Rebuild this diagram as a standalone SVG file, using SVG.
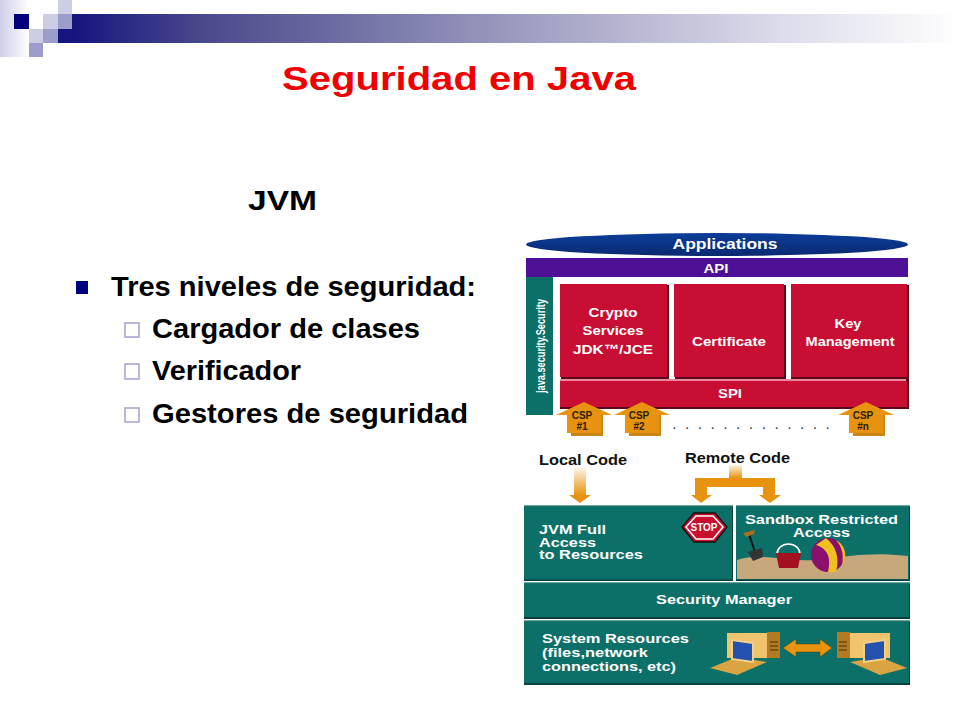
<svg xmlns="http://www.w3.org/2000/svg" width="960" height="720" viewBox="0 0 960 720">
<style>
text{font-family:"Liberation Sans",Arial,sans-serif;font-weight:bold}
.b{fill:#000;font-size:27px}
.w{fill:#fff;text-anchor:middle;font-size:13.5px}
.wl{fill:#fff;font-size:13.5px}
.red{fill:#c80e32}
.rs{fill:#5c0818}
.teal{fill:#0c6f68}
.ts{fill:#063f3b}
.tl{fill:#62aaa4}
.cb{fill:#fff;stroke:#a9a6cf;stroke-width:1.6}
.or{fill:#e8930f}
.csp{fill:#2b2000;font-size:10px;text-anchor:middle}
</style>
<defs>
<linearGradient id="bar"><stop offset="0" stop-color="#15157f"/><stop offset=".15" stop-color="#4a4a8c"/><stop offset=".5" stop-color="#9c9cc0"/><stop offset=".8" stop-color="#dcdcea"/><stop offset="1" stop-color="#fff"/></linearGradient>
<linearGradient id="left"><stop offset="0" stop-color="#cfcfe8"/><stop offset="1" stop-color="#fff"/></linearGradient>
<linearGradient id="ell" x1="0" y1="0" x2="0" y2="1"><stop offset="0" stop-color="#0c3d99"/><stop offset="1" stop-color="#0a2a70"/></linearGradient>
<linearGradient id="fade" x1="0" y1="0" x2="0" y2="1"><stop offset="0" stop-color="#e8930f" stop-opacity=".1"/><stop offset="1" stop-color="#e8930f"/></linearGradient>
<g id="up"><path d="M-13 33V15H15V33Z" fill="#8a5a10"/><path d="M-15 35V14H17V35Z" fill="#c9851a" transform="translate(2,-1)"/><path d="M-17 31V13H-28L0 0 28 13H17V31Z" class="or"/></g>
<g id="pc"><path d="M0 36L27 25 57 30 27 43Z" fill="#d9a441"/><path d="M17 1H57V26H17Z" fill="#efc46c"/><path d="M57 0H70V26H57Z" fill="#b27a22"/><path d="M22 8L43 11V30L22 27Z" fill="#2450ae" stroke="#f3d08a" stroke-width="2"/><path d="M60 10h8M60 14h8M60 18h8" stroke="#4a3000" stroke-width="1"/></g>
</defs>
<g id="header">
<rect x="0" y="0" width="29" height="57" fill="url(#left)"/>
<rect x="72" y="14" width="888" height="29" fill="url(#bar)"/>
<rect x="14" y="14" width="15" height="15" fill="#00007f"/>
<rect x="29" y="14" width="14" height="15" fill="#fff"/>
<rect x="43" y="14" width="15" height="15" fill="#cdcde6"/>
<rect x="58" y="0" width="14" height="14" fill="#cdcde6"/>
<rect x="58" y="14" width="14" height="15" fill="#9d9dcc"/>
<rect x="58" y="29" width="14" height="14" fill="#15157f"/>
<rect x="29" y="29" width="14" height="14" fill="#cdcde6"/>
<rect x="43" y="29" width="15" height="14" fill="#9d9dcc"/>
<rect x="29" y="43" width="14" height="14" fill="#9d9dcc"/>
</g>
<text x="282" y="90" fill="#f00000" font-size="34" textLength="354" lengthAdjust="spacingAndGlyphs">Seguridad en Java</text>
<text x="248" y="210" font-size="27" fill="#000" textLength="69" lengthAdjust="spacingAndGlyphs">JVM</text>
<g id="bullets">
<rect x="76" y="281" width="12" height="13" fill="#00007f"/>
<text class="b" x="111" y="296" textLength="365" lengthAdjust="spacingAndGlyphs">Tres niveles de seguridad:</text>
<rect class="cb" x="125" y="323" width="14" height="14"/>
<text class="b" x="152" y="338" textLength="268" lengthAdjust="spacingAndGlyphs">Cargador de clases</text>
<rect class="cb" x="125" y="364" width="14" height="15"/>
<text class="b" x="152" y="380" textLength="149" lengthAdjust="spacingAndGlyphs">Verificador</text>
<rect class="cb" x="125" y="408" width="14" height="14"/>
<text class="b" x="152" y="423" textLength="316" lengthAdjust="spacingAndGlyphs">Gestores de seguridad</text>
</g>
<g id="applications"><ellipse cx="717" cy="244.500" rx="191" ry="11.500" fill="url(#ell)"/><text class="w" x="725" y="249" style="font-size:15px" textLength="105" lengthAdjust="spacingAndGlyphs">Applications</text></g>
<g id="api"><rect x="526" y="258" width="382" height="19" fill="#4d0f95"/><text class="w" x="716" y="273" style="font-size:13px" textLength="25" lengthAdjust="spacingAndGlyphs">API</text></g>
<g id="java-security"><rect x="526" y="277" width="27" height="138" fill="#0c6f68"/><text class="w" transform="translate(545,346) rotate(-90)" style="font-size:13.500px" textLength="94" lengthAdjust="spacingAndGlyphs">java.security.Security</text></g>
<g id="crypto"><rect class="rs" x="561" y="285" width="108" height="94"/><rect class="red" x="560" y="284" width="107" height="93"/><text class="w" x="613" y="317" textLength="49" lengthAdjust="spacingAndGlyphs">Crypto</text><text class="w" x="613" y="335" textLength="61" lengthAdjust="spacingAndGlyphs">Services</text><text class="w" x="613" y="354" textLength="80" lengthAdjust="spacingAndGlyphs">JDK™/JCE</text></g>
<g id="certificate"><rect class="rs" x="675" y="285" width="111" height="94"/><rect class="red" x="674" y="284" width="110" height="93"/><text class="w" x="729" y="346" textLength="74" lengthAdjust="spacingAndGlyphs">Certificate</text></g>
<g id="key"><rect class="rs" x="791" y="285" width="118" height="94"/><rect class="red" x="791" y="284" width="116" height="93"/><text class="w" x="848" y="328" textLength="27" lengthAdjust="spacingAndGlyphs">Key</text><text class="w" x="850" y="346" textLength="89" lengthAdjust="spacingAndGlyphs">Management</text></g>
<g id="spi"><rect class="rs" x="560" y="379" width="349" height="30"/><rect fill="#e7889c" x="560" y="379" width="346" height="2"/><rect class="red" x="560" y="381" width="347" height="26"/><text class="w" x="730" y="398" textLength="24" lengthAdjust="spacingAndGlyphs">SPI</text></g>
<g id="csp1"><use href="#up" x="584" y="402"/><text class="csp" x="582" y="419">CSP</text><text class="csp" x="582" y="430">#1</text></g>
<g id="csp2"><use href="#up" x="642" y="402"/><text class="csp" x="639" y="419">CSP</text><text class="csp" x="639" y="430">#2</text></g>
<g id="cspn"><use href="#up" x="866" y="402"/><text class="csp" x="863" y="419">CSP</text><text class="csp" x="863" y="430">#n</text></g>
<text x="673" y="429" font-size="10" fill="#333" textLength="156">. . . . . . . . . . . . .</text>
<g id="connectors">
<rect x="574" y="468" width="12" height="27" fill="url(#fade)"/><path d="M569 495H591L580 503Z" class="or"/>
<rect x="729" y="465" width="13" height="13" fill="url(#fade)"/>
<path d="M695 478H775V495H763V487H707V495H695Z" class="or"/>
<path d="M691 495H712L701 503Z" class="or"/><path d="M759 495H781L770 503Z" class="or"/>
</g>
<text x="539" y="465" font-size="15" fill="#111" textLength="88" lengthAdjust="spacingAndGlyphs">Local Code</text>
<text x="685" y="463" font-size="15" fill="#111" textLength="105" lengthAdjust="spacingAndGlyphs">Remote Code</text>
<g id="jvm"><rect class="ts" x="524" y="505" width="209" height="76"/><rect class="tl" x="524" y="505" width="209" height="1.500"/><rect class="teal" x="524" y="506.500" width="208" height="73"/>
<text class="wl" x="539" y="534" textLength="67" lengthAdjust="spacingAndGlyphs">JVM Full</text><text class="wl" x="539" y="547" textLength="57" lengthAdjust="spacingAndGlyphs">Access</text><text class="wl" x="539" y="559" textLength="104" lengthAdjust="spacingAndGlyphs">to Resources</text>
<path d="M694 513H715L727 527 715 542H694L682 527Z" fill="#c8102e" stroke="#111" stroke-width="1.500"/><path d="M696 516H713L723 527 713 539H696L686 527Z" fill="#c8102e" stroke="#fff" stroke-width="1.500"/><text x="704" y="531" text-anchor="middle" font-size="10" fill="#fff" textLength="27" lengthAdjust="spacingAndGlyphs">STOP</text></g>
<g id="sandbox"><rect class="ts" x="736" y="505" width="174" height="76"/><rect class="tl" x="736" y="505" width="174" height="1.500"/><rect class="teal" x="736" y="506.500" width="173" height="73"/>
<path d="M737 560C760 552 790 562 820 560 850 556 870 552 908 556V579H737Z" fill="#c7a77c"/>
<path d="M749 534L755 552" stroke="#111" stroke-width="2"/><path d="M743 533L755 530 754 534 746 537Z" fill="#a87020"/><path d="M748 552L762 548 763 557 753 561Z" fill="#333"/>
<path d="M777 554A11.500 10 0 0 1 800 554" fill="none" stroke="#fff" stroke-width="1.500"/><path d="M776 553H801L798 568H779Z" fill="#a3101f"/>
<circle cx="828" cy="555" r="17" fill="#8a1070"/><path d="M816 545C826 548 832 556 828 572H836C840 558 836 546 826 538ZM836 540C842 547 844 554 842 566 847 558 847 546 836 540Z" fill="#f0c020"/>
<text class="wl" x="745" y="524" textLength="153" lengthAdjust="spacingAndGlyphs">Sandbox Restricted</text><text class="wl" x="793" y="537" textLength="57" lengthAdjust="spacingAndGlyphs">Access</text></g>
<g id="security-manager"><rect class="ts" x="524" y="582" width="386" height="37"/><rect class="tl" x="524" y="582" width="386" height="1.500"/><rect class="teal" x="524" y="583.500" width="385" height="33.500"/><text class="wl" x="656" y="604" textLength="136" lengthAdjust="spacingAndGlyphs">Security Manager</text></g>
<g id="system"><rect class="ts" x="524" y="620" width="386" height="65"/><rect class="tl" x="524" y="620" width="386" height="1.500"/><rect class="teal" x="524" y="621.500" width="385" height="61.500"/>
<text class="wl" x="542" y="643" textLength="147" lengthAdjust="spacingAndGlyphs">System Resources</text><text class="wl" x="542" y="657" textLength="106" lengthAdjust="spacingAndGlyphs">(files,network</text><text class="wl" x="542" y="671" textLength="134" lengthAdjust="spacingAndGlyphs">connections, etc)</text>
<use href="#pc" x="710" y="632"/><use href="#pc" transform="translate(907,632) scale(-1,1)"/>
<path d="M783 648L796 639V644H820V639L832 648 820 657V652H796V657Z" class="or" stroke="#5a3a00" stroke-width=".5"/></g>
</svg>
